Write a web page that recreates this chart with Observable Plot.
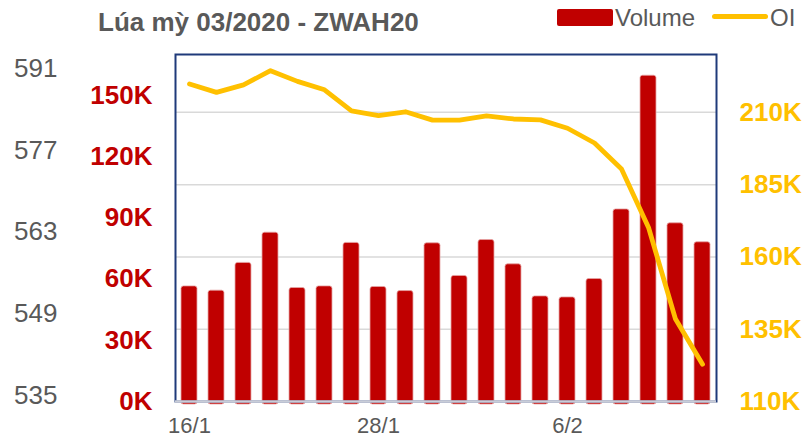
<!DOCTYPE html>
<html>
<head>
<meta charset="utf-8">
<script src="https://cdn.jsdelivr.net/npm/d3@7"></script>
<script src="https://cdn.jsdelivr.net/npm/@observablehq/plot@0.6"></script>
<style>
  html, body { margin: 0; padding: 0; background: #fff; }
  body { width: 804px; height: 439px; overflow: hidden; font-family: "Liberation Sans", Arial, sans-serif; }
  #header { position: relative; height: 44px; }
  #title { position: absolute; left: 98px; top: 7px; font-size: 26px; font-weight: bold; color: #595959; line-height: normal; white-space: nowrap; }
  .lg-text { position: absolute; top: 4px; font-size: 24px; color: #595959; line-height: normal; white-space: nowrap; }
  #lg-vol-sw { position: absolute; left: 557px; top: 9px; width: 56px; height: 17px; background: #C00000; border-radius: 2px; }
  #lg-oi-sw { position: absolute; left: 712px; top: 14px; width: 56px; height: 5px; background: #FFC000; border-radius: 3px; }
  #chart svg { display: block; }
</style>
</head>
<body>
<div id="header">
  <div id="title">Lúa mỳ 03/2020 - ZWAH20</div>
  <div id="lg-vol-sw"></div>
  <div class="lg-text" style="left:615px">Volume</div>
  <div id="lg-oi-sw"></div>
  <div class="lg-text" style="left:770px">OI</div>
</div>
<div id="chart"></div>
<script>
// ---- data ----
const dates = ["16/1","17/1","21/1","22/1","23/1","24/1","27/1","28/1","29/1","30/1","31/1",
               "3/2","4/2","5/2","6/2","7/2","10/2","11/2","12/2","13/2"];
const volume = [56400, 54300, 67900, 82700, 55600, 56400, 77700, 56100, 54100, 77500, 61500,
                79100, 67200, 51500, 51000, 60000, 94100, 159600, 87300, 78000];
const oi = [219800, 216900, 219500, 224400, 220700, 217800, 210500, 208900, 210200, 207300, 207300,
            208800, 207700, 207400, 204500, 199400, 190400, 170200, 138500, 122900];
const xTickLabels = ["16/1", "28/1", "6/2"];
const volumeTicks = [0, 30000, 60000, 90000, 120000, 150000];
const oiTicks = [110000, 135000, 160000, 185000, 210000];
const priceTicks = [535, 549, 563, 577, 591];

// axis domains
const volDomain = [0, 170000];
const oiDomain = [110000, 230000];
const priceDomain = [534, 593.4];

// map secondary scales onto the primary (volume) scale
const oiToV = v => (v - oiDomain[0]) / (oiDomain[1] - oiDomain[0]) * (volDomain[1] - volDomain[0]) + volDomain[0];
const priceToV = v => (v - priceDomain[0]) / (priceDomain[1] - priceDomain[0]) * (volDomain[1] - volDomain[0]) + volDomain[0];
const vToOi = v => (v - volDomain[0]) / (volDomain[1] - volDomain[0]) * (oiDomain[1] - oiDomain[0]) + oiDomain[0];
const vToPrice = v => (v - volDomain[0]) / (volDomain[1] - volDomain[0]) * (priceDomain[1] - priceDomain[0]) + priceDomain[0];

const data = dates.map((d, i) => ({date: d, volume: volume[i], oi: oi[i]}));

const chart = Plot.plot({
  width: 804,
  height: 395,
  marginLeft: 175,
  marginRight: 88,
  marginTop: 10,
  marginBottom: 38,
  style: {fontFamily: "'Liberation Sans', Arial, sans-serif", background: "#fff"},
  x: {type: "band", domain: dates, paddingInner: 0.4, paddingOuter: 0.2, axis: null, label: null},
  y: {domain: volDomain, axis: null, label: null},
  marks: [
    Plot.ruleY(oiTicks.slice(1).map(oiToV), {stroke: "#D9D9D9", strokeWidth: 1.5}),
    Plot.barY(data, {x: "date", y: "volume", fill: "#C00000", stroke: "#E6A6A6", strokeWidth: 0.8, rx: 2.5, insetBottom: -3}),
    Plot.frame({stroke: "#1F3A7A", strokeWidth: 2}),
    Plot.ruleY([0], {stroke: "#C9CDD8", strokeWidth: 2.5}),
    Plot.lineY(data, {x: "date", y: d => oiToV(d.oi), stroke: "#FFC000", strokeWidth: 4.8, strokeLinejoin: "round", strokeLinecap: "round"}),
    // left volume axis
    Plot.axisY(volumeTicks, {anchor: "left", label: null, tickSize: 0, tickPadding: 23, tickFormat: d => d / 1000 + "K",
      color: "#C00000", fontSize: 26, fontWeight: "bold"}),
    // far-left price axis
    Plot.axisY(priceTicks.map(priceToV), {anchor: "left", label: null, tickSize: 0, tickPadding: 118,
      tickFormat: d => String(Math.round(vToPrice(d))), color: "#595959", fontSize: 26}),
    // right OI axis
    Plot.axisY(oiTicks.map(oiToV), {anchor: "right", label: null, tickSize: 0, tickPadding: 23,
      tickFormat: d => Math.round(vToOi(d) / 1000) + "K", color: "#FFC000", fontSize: 26, fontWeight: "bold"}),
    // x axis
    Plot.axisX(xTickLabels, {anchor: "bottom", label: null, tickSize: 0, tickPadding: 16, color: "#595959", fontSize: 22})
  ]
});
document.getElementById("chart").appendChild(chart);
</script>
</body>
</html>
